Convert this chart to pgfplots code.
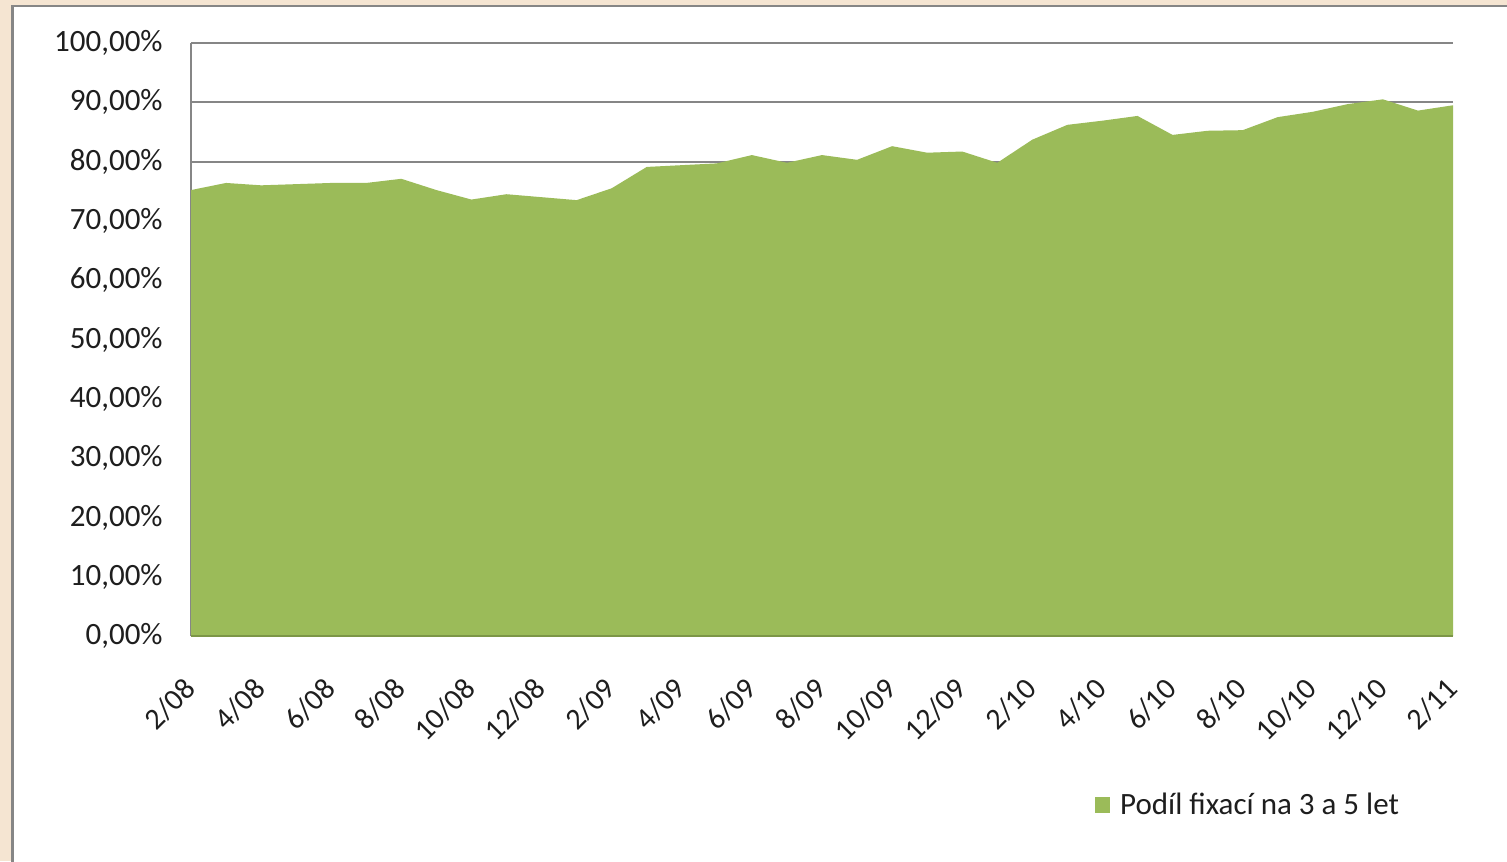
\documentclass[border=0pt]{standalone}
\usepackage{pgfplots}
\pgfplotsset{compat=1.18}
\usepackage{fontspec}
\setmainfont{Carlito}
\definecolor{areagreen}{RGB}{155,187,89}
\definecolor{beige}{RGB}{245,229,210}
\definecolor{gridgray}{RGB}{134,134,134}
\definecolor{txt}{RGB}{30,30,30}
\pgfplotstableread{
x y
0 75.2
1 76.4
2 76.0
3 76.2
4 76.4
5 76.4
6 77.1
7 75.2
8 73.6
9 74.5
10 74.0
11 73.5
12 75.5
13 79.1
14 79.4
15 79.7
16 81.1
17 79.8
18 81.1
19 80.3
20 82.6
21 81.5
22 81.7
23 79.8
24 83.7
25 86.2
26 86.9
27 87.7
28 84.5
29 85.2
30 85.3
31 87.5
32 88.4
33 89.7
34 90.5
35 88.6
36 89.5
}\datatable
\begin{document}
\begin{tikzpicture}
\useasboundingbox (0,0) rectangle (753.5pt,-430.5pt);
\clip (0,0) rectangle (753.5pt,-430.5pt);
\fill[beige] (0,0) rectangle (753.5pt,-430.5pt);
\filldraw[fill=white, draw=gridgray, line width=1.2pt] (6.2pt,-3pt) rectangle (760pt,-440pt);
\begin{axis}[
  at={(95.5pt,-318pt)}, anchor=south west,
  scale only axis, width=631pt, height=296.5pt,
  xmin=0, xmax=36, ymin=0, ymax=100,
  axis x line*=bottom,
  axis y line*=left,
  x axis line style={draw=none},
  y axis line style={draw=gridgray, line width=1pt, -},
  ytick={0,10,...,100},
  yticklabels={{0,00\%},{10,00\%},{20,00\%},{30,00\%},{40,00\%},{50,00\%},{60,00\%},{70,00\%},{80,00\%},{90,00\%},{100,00\%}},
  xtick={0,2,...,36},
  xticklabels={2/08,4/08,6/08,8/08,10/08,12/08,2/09,4/09,6/09,8/09,10/09,12/09,2/10,4/10,6/10,8/10,10/10,12/10,2/11},
  major tick length=0pt,
  ymajorgrids, grid style={draw=gridgray, line width=1pt},
  yticklabel style={font=\fontsize{15.5}{16}\selectfont, text=txt, anchor=east, inner sep=0pt, xshift=-14pt},
  xticklabel style={font=\fontsize{15}{16}\selectfont, text=txt, rotate=45, anchor=east, inner sep=0pt, xshift=-17.2pt, yshift=-16.7pt},
  clip=false,
  legend style={at={(0.716,-0.285)}, anchor=west, draw=none, fill=none, font=\fontsize{15.5}{16}\selectfont, text=txt, inner sep=0pt},
  legend image code/.code={\fill[areagreen] (0pt,-3.8pt) rectangle (7.6pt,3.8pt);},
]
\addplot[fill=areagreen, draw=none] table[x=x,y=y] {\datatable} \closedcycle;
\addlegendentry{\hspace{3pt}Podíl fixací na 3 a 5 let}
\draw[areagreen!80!black, line width=0.6pt] (axis cs:0,0) -- (axis cs:36,0);
\end{axis}
\end{tikzpicture}
\end{document}
